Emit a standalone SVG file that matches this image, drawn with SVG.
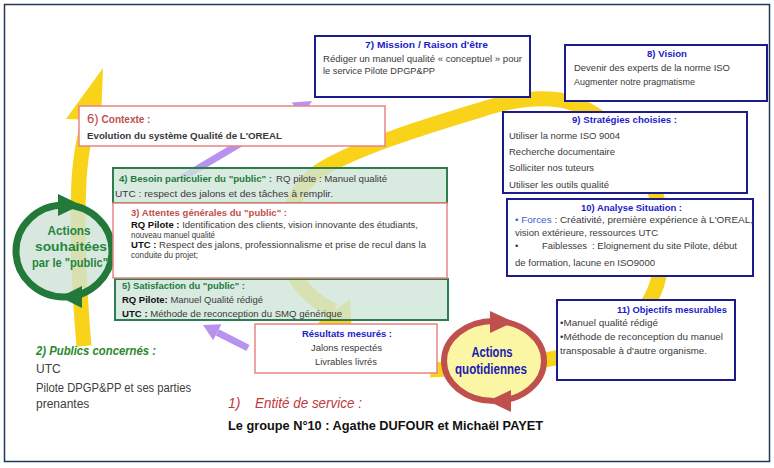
<svg xmlns="http://www.w3.org/2000/svg" width="774" height="468" viewBox="0 0 774 468">
<style>
.t{font-family:"Liberation Sans",Arial,sans-serif;font-size:9.5px;fill:#3a3a3a}
.s{font-size:8.5px}
.b{font-weight:bold}
.blue{fill:#1c1cc8;font-weight:bold}
.grn{fill:#1f7a3d;font-weight:bold}
.red{fill:#c0504d;font-weight:bold}
.navy{fill:#fff;stroke:#1c1c8c;stroke-width:2}
.pink{fill:#fff;stroke:#e98585;stroke-width:1.5}
.gbox{fill:#cfe5d8;fill-opacity:0.8;stroke:#2e7d4f;stroke-width:2}
.yel{fill:none;stroke:#f9d21a;stroke-width:15}
.yelf{fill:#f9d21a}
.pur{fill:none;stroke:#b792ef;stroke-width:7}
.purf{fill:#b792ef}
</style>
<rect x="0" y="0" width="774" height="468" fill="#fff"/>
<rect x="4.5" y="4.5" width="765" height="457" fill="#fff" stroke="#1f3a5a" stroke-width="1.5"/>

<g id="connectors">
  <path class="yel" d="M84,346 C80,300 76,240 79,180 C81,150 85,130 92,116"/>
  <polygon class="yelf" points="66,119 103,68 101,120"/>
  <path class="yel" d="M430,370 C470,368 520,366 555,358 C620,345 655,310 660,270 C665,230 660,200 650,180 C630,140 600,108 560,100 C530,96 505,102 480,110 C420,128 350,150 318,172 C290,192 278,235 290,268 C300,288 315,302 334,311"/>
  <polygon class="yelf" points="350,299 318,323 352,335"/>
  <path class="pur" d="M182,178 L296.5,110.2"/>
  <polygon class="purf" points="301.1,117.9 291.9,102.5 312,101"/>
  <path class="pur" d="M248,348 L217.3,332.3"/>
  <polygon class="purf" points="221.4,324.3 213.2,340.3 203,325"/>
</g>

<g id="n4">
  <rect class="gbox" x="113" y="168" width="334" height="35"/>
  <text class="t grn" x="119" y="182" textLength="153" lengthAdjust="spacingAndGlyphs">4) Besoin particulier du "public" :</text>
  <text class="t" x="276" y="182" textLength="111" lengthAdjust="spacingAndGlyphs">RQ pilote  : Manuel qualité</text>
  <text class="t" x="115" y="197" textLength="218" lengthAdjust="spacingAndGlyphs">UTC : respect des jalons et des tâches à remplir.</text>
</g>

<g id="n5">
  <rect class="gbox" x="115" y="279" width="333" height="41"/>
  <text class="t grn" x="122" y="289" textLength="123" lengthAdjust="spacingAndGlyphs">5) Satisfaction du "public" :</text>
  <text class="t" x="122" y="303" textLength="141" lengthAdjust="spacingAndGlyphs"><tspan class="b" fill="#111">RQ Pilote:</tspan> Manuel Qualité rédigé</text>
  <text class="t" x="122" y="317" textLength="220" lengthAdjust="spacingAndGlyphs"><tspan class="b" fill="#111">UTC :</tspan> Méthode de reconception du SMQ  générique</text>
</g>

<g id="actions-public">
  <ellipse cx="64" cy="251" rx="48" ry="46" fill="#cfe2d6" fill-opacity="0.8" stroke="#23793a" stroke-width="7"/>
  <polygon points="58,194 58,216 81,205" fill="#23793a"/>
  <polygon points="82,286 82,308 60,297" fill="#23793a"/>
  <g font-family="Liberation Sans,Arial,sans-serif" font-size="13.5" font-weight="bold" fill="#23863f" text-anchor="middle">
    <text x="69" y="235" textLength="43" lengthAdjust="spacingAndGlyphs">Actions</text>
    <text x="71" y="251" textLength="72" lengthAdjust="spacingAndGlyphs">souhaitées</text>
    <text x="70" y="267" textLength="76" lengthAdjust="spacingAndGlyphs">par le "public"</text>
  </g>
</g>

<g id="n3">
  <rect class="pink" x="113" y="203" width="334" height="75"/>
  <text class="t s red" x="131" y="216" textLength="156" lengthAdjust="spacingAndGlyphs">3) Attentes générales du "public" :</text>
  <text class="t s" x="131" y="228" textLength="287" lengthAdjust="spacingAndGlyphs"><tspan class="b" fill="#111">RQ Pilote :</tspan> Identification des clients, vision innovante des étudiants,</text>
  <text class="t s" x="131" y="238" textLength="84" lengthAdjust="spacingAndGlyphs">nouveau manuel qualité</text>
  <text class="t s" x="131" y="248" textLength="295" lengthAdjust="spacingAndGlyphs"><tspan class="b" fill="#111">UTC :</tspan> Respect des jalons, professionnalisme et prise de recul dans la</text>
  <text class="t s" x="131" y="258" textLength="67" lengthAdjust="spacingAndGlyphs">conduite du projet;</text>
</g>

<g id="n6">
  <rect class="pink" x="79" y="106" width="306" height="40"/>
  <text class="t" x="87" y="123" fill="#c0393b"><tspan font-size="13" fill="#c0393b">6)</tspan><tspan class="red" font-size="10" dx="3" fill="#c0393b">Contexte :</tspan></text>
  <text class="t b" x="87" y="139" fill="#111" textLength="195" lengthAdjust="spacingAndGlyphs">Evolution du système  Qualité  de L'OREAL</text>
</g>

<g id="n7">
  <rect class="navy" x="315" y="36" width="215" height="61"/>
  <text class="t blue" x="426.5" y="48" text-anchor="middle" textLength="123" lengthAdjust="spacingAndGlyphs">7) Mission / Raison d'être</text>
  <text class="t" x="323" y="62" textLength="199" lengthAdjust="spacingAndGlyphs">Rédiger un manuel qualité « conceptuel » pour</text>
  <text class="t" x="323" y="74" textLength="112" lengthAdjust="spacingAndGlyphs">le service Pilote DPGP&amp;PP</text>
</g>

<g id="n8">
  <rect class="navy" x="565" y="45" width="202" height="56"/>
  <text class="t blue" x="667" y="57" text-anchor="middle" textLength="40" lengthAdjust="spacingAndGlyphs">8) Vision</text>
  <text class="t" x="574" y="71" textLength="156" lengthAdjust="spacingAndGlyphs">Devenir des experts de la norme ISO</text>
  <text class="t" x="574" y="85" textLength="121" lengthAdjust="spacingAndGlyphs">Augmenter notre pragmatisme</text>
</g>

<g id="n9">
  <rect class="navy" x="503" y="112" width="244" height="81"/>
  <text class="t blue" x="624.5" y="123" text-anchor="middle" textLength="105" lengthAdjust="spacingAndGlyphs">9) Stratégies  choisies :</text>
  <text class="t" x="509" y="139" textLength="111" lengthAdjust="spacingAndGlyphs">Utiliser la norme ISO 9004</text>
  <text class="t" x="509" y="155" textLength="106" lengthAdjust="spacingAndGlyphs">Recherche documentaire</text>
  <text class="t" x="509" y="171" textLength="85" lengthAdjust="spacingAndGlyphs">Solliciter nos tuteurs</text>
  <text class="t" x="509" y="188" textLength="100" lengthAdjust="spacingAndGlyphs">Utiliser les outils qualité</text>
</g>

<g id="n10">
  <rect class="navy" x="507" y="199" width="246" height="77"/>
  <text class="t blue" x="631.5" y="211" text-anchor="middle" textLength="101" lengthAdjust="spacingAndGlyphs">10) Analyse Situation :</text>
  <text class="t" x="515" y="223" textLength="238" lengthAdjust="spacingAndGlyphs"><tspan fill="#3a5fcd">• Forces</tspan> : Créativité, première expérience à L'OREAL,</text>
  <text class="t" x="515" y="236" textLength="143" lengthAdjust="spacingAndGlyphs">vision extérieure, ressources UTC</text>
  <text class="t" x="515" y="249" fill="#3a5fcd">•</text>
  <text class="t" x="542" y="249" fill="#3a5fcd" textLength="45" lengthAdjust="spacingAndGlyphs">Faiblesses</text>
  <text class="t" x="592" y="249" textLength="145" lengthAdjust="spacingAndGlyphs">: Eloignement du site Pilote, début</text>
  <text class="t" x="515" y="266" textLength="140" lengthAdjust="spacingAndGlyphs">de formation, lacune en ISO9000</text>
</g>

<g id="n11">
  <rect class="navy" x="557" y="300" width="178" height="80"/>
  <text class="t blue" x="617" y="313" textLength="110" lengthAdjust="spacingAndGlyphs">11) Objectifs  mesurables</text>
  <text class="t" x="560" y="326" textLength="98" lengthAdjust="spacingAndGlyphs">•Manuel qualité rédigé</text>
  <text class="t" x="560" y="340" textLength="163" lengthAdjust="spacingAndGlyphs">•Méthode de reconception  du manuel</text>
  <text class="t" x="560" y="354" textLength="147" lengthAdjust="spacingAndGlyphs">transposable à d'autre organisme.</text>
</g>

<g id="resultats">
  <rect class="pink" x="255" y="324" width="182" height="49"/>
  <text class="t blue" x="347" y="337" text-anchor="middle" textLength="90" lengthAdjust="spacingAndGlyphs">Résultats mesurés :</text>
  <text class="t" x="346.5" y="351" text-anchor="middle" textLength="71" lengthAdjust="spacingAndGlyphs">Jalons respectés</text>
  <text class="t" x="346" y="365" text-anchor="middle" textLength="62" lengthAdjust="spacingAndGlyphs">Livrables livrés</text>
</g>

<g id="actions-quotidiennes">
  <ellipse cx="494" cy="361" rx="50" ry="40" fill="#fbf6a3" stroke="#c0504d" stroke-width="6"/>
  <polygon points="490,311 490,333 514,322" fill="#c0504d"/>
  <polygon points="511,390 511,412 488,401" fill="#c0504d"/>
  <g font-family="Liberation Sans,Arial,sans-serif" font-size="14" font-weight="bold" fill="#1a1ab4" text-anchor="middle">
    <text x="492" y="357" textLength="41" lengthAdjust="spacingAndGlyphs">Actions</text>
    <text x="491" y="374" textLength="72" lengthAdjust="spacingAndGlyphs">quotidiennes</text>
  </g>
</g>

<g id="publics">
  <text x="36" y="355" font-family="Liberation Sans,Arial,sans-serif" font-size="13" font-style="italic" font-weight="bold" fill="#2a8a2a" textLength="120" lengthAdjust="spacingAndGlyphs">2) Publics concernés :</text>
  <text x="36" y="373" font-family="Liberation Sans,Arial,sans-serif" font-size="12" fill="#404040">UTC</text>
  <text x="36" y="392" font-family="Liberation Sans,Arial,sans-serif" font-size="12" fill="#404040" textLength="155" lengthAdjust="spacingAndGlyphs">Pilote DPGP&amp;PP et ses parties</text>
  <text x="36" y="408" font-family="Liberation Sans,Arial,sans-serif" font-size="12" fill="#404040">prenantes</text>
</g>

<g id="entite">
  <text x="228" y="408" font-family="Liberation Sans,Arial,sans-serif" font-size="14" font-style="italic" fill="#c0393b">1)</text>
  <text x="255" y="408" font-family="Liberation Sans,Arial,sans-serif" font-size="14" font-style="italic" fill="#c0393b" textLength="107" lengthAdjust="spacingAndGlyphs">Entité de service :</text>
  <text x="228" y="430" font-family="Liberation Sans,Arial,sans-serif" font-size="13" font-weight="bold" fill="#111" textLength="315" lengthAdjust="spacingAndGlyphs">Le groupe N°10  : Agathe DUFOUR  et Michaël PAYET</text>
</g>
</svg>
